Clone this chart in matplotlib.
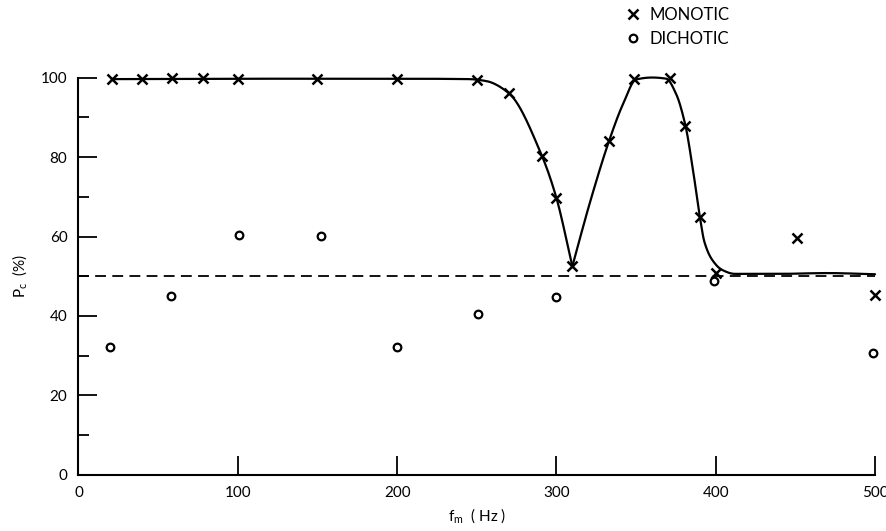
import numpy as np
import matplotlib
matplotlib.use("Agg")
import matplotlib.pyplot as plt
from matplotlib.lines import Line2D

plt.rcParams['font.family'] = ['Lato', 'DejaVu Sans']

# Modulation frequency (Hz) and percent correct
monotic_f = [21, 40, 59, 78, 100, 150, 200, 250, 270, 291, 300, 310, 333, 349, 371, 381, 390, 400, 451, 500]
monotic_pc = [99.6, 99.7, 99.8, 99.9, 99.6, 99.7, 99.7, 99.5, 96.1, 80.2, 69.7, 52.5, 84.0, 99.6, 99.8, 87.9, 65.0, 50.7, 59.6, 45.3]

dichotic_f = [20, 58, 101, 152, 200, 251, 300, 399, 499]
dichotic_pc = [32.3, 45.0, 60.3, 60.1, 32.3, 40.5, 44.9, 48.7, 30.8]

# Hand-drawn trend through the monotic scores (two branches meeting at the dip)
trend_left_f = [21, 100, 200, 245, 256, 270, 291, 300, 310]
trend_left_pc = [99.6, 99.7, 99.7, 99.6, 99.1, 96.1, 80.2, 69.7, 52.5]
trend_right_f = [310, 321, 333, 342, 350, 360, 369, 375, 381, 386, 390, 393, 398, 404, 412, 440, 470, 500]
trend_right_pc = [52.5, 68.5, 84.0, 93.5, 99.5, 100.0, 99.7, 96.0, 87.9, 76.0, 65.0, 58.5, 54.0, 51.6, 50.6, 50.6, 50.8, 50.5]

chance_level = 50

x_ticks = [0, 100, 200, 300, 400, 500]
y_ticks = [0, 20, 40, 60, 80, 100]


def pchip(x, y, xs):
    x = np.asarray(x, float)
    y = np.asarray(y, float)
    h = np.diff(x)
    delta = np.diff(y) / h
    n = len(x)
    d = np.zeros(n)
    for k in range(1, n - 1):
        if delta[k - 1] * delta[k] <= 0:
            d[k] = 0.0
        else:
            w1 = 2 * h[k] + h[k - 1]
            w2 = h[k] + 2 * h[k - 1]
            d[k] = (w1 + w2) / (w1 / delta[k - 1] + w2 / delta[k])
    d[0] = delta[0]
    d[-1] = delta[-1]
    xs = np.asarray(xs, float)
    idx = np.clip(np.searchsorted(x, xs) - 1, 0, n - 2)
    t = (xs - x[idx]) / h[idx]
    h00 = 2 * t**3 - 3 * t**2 + 1
    h10 = t**3 - 2 * t**2 + t
    h01 = -2 * t**3 + 3 * t**2
    h11 = t**3 - t**2
    return (h00 * y[idx] + h10 * h[idx] * d[idx]
            + h01 * y[idx + 1] + h11 * h[idx] * d[idx + 1])


fig = plt.figure(figsize=(8.87, 5.31), dpi=100)
ax = fig.add_axes([0.0885, 0.1055, 0.898, 0.7485])

ax.axhline(chance_level, color='black', lw=1.3, ls=(0, (6, 3.5)), zorder=1)

for fx, fy in ((trend_left_f, trend_left_pc), (trend_right_f, trend_right_pc)):
    xs = np.linspace(fx[0], fx[-1], 400)
    ax.plot(xs, pchip(fx, fy, xs), color='black', lw=1.6, zorder=2,
            solid_capstyle='round', clip_on=False)

ax.plot(monotic_f, monotic_pc, ls='none', marker='x', ms=7, mew=1.8,
        color='black', zorder=3, clip_on=False)
ax.plot(dichotic_f, dichotic_pc, ls='none', marker='o', ms=5.5, mew=1.6,
        mfc='white', mec='black', zorder=3, clip_on=False)

ax.set_xlim(0, 500)
ax.set_ylim(0, 100)
ax.set_xticks(x_ticks)
ax.set_yticks(y_ticks)
ax.set_yticks([10, 30, 50, 70, 90], minor=True)

for side in ('top', 'right'):
    ax.spines[side].set_visible(False)
for side in ('left', 'bottom'):
    ax.spines[side].set_linewidth(1.5)

ax.tick_params(axis='both', which='major', direction='in', width=1.3,
               labelsize=11, pad=8)
ax.tick_params(axis='y', which='major', length=14)
ax.tick_params(axis='x', which='major', length=13.5)
ax.tick_params(axis='y', which='minor', direction='in', length=8, width=1.3)

ax.set_xlabel(r'f$_{\mathregular{m}}$  ( Hz )', fontsize=11, labelpad=5)
ax.set_ylabel(r'P$_{\mathregular{c}}$  (%)', fontsize=11, labelpad=8)

handles = [
    Line2D([], [], ls='none', marker='x', ms=7, mew=1.8, color='black'),
    Line2D([], [], ls='none', marker='o', ms=5.5, mew=1.6, mfc='white', mec='black'),
]
fig.legend(handles, ['MONOTIC', 'DICHOTIC'], loc='upper left',
           bbox_to_anchor=(0.687, 1.016), frameon=False, fontsize=12,
           handlelength=1.0, handletextpad=0.5, labelspacing=0.5,
           numpoints=1)

fig.savefig('out.png', dpi=100)
